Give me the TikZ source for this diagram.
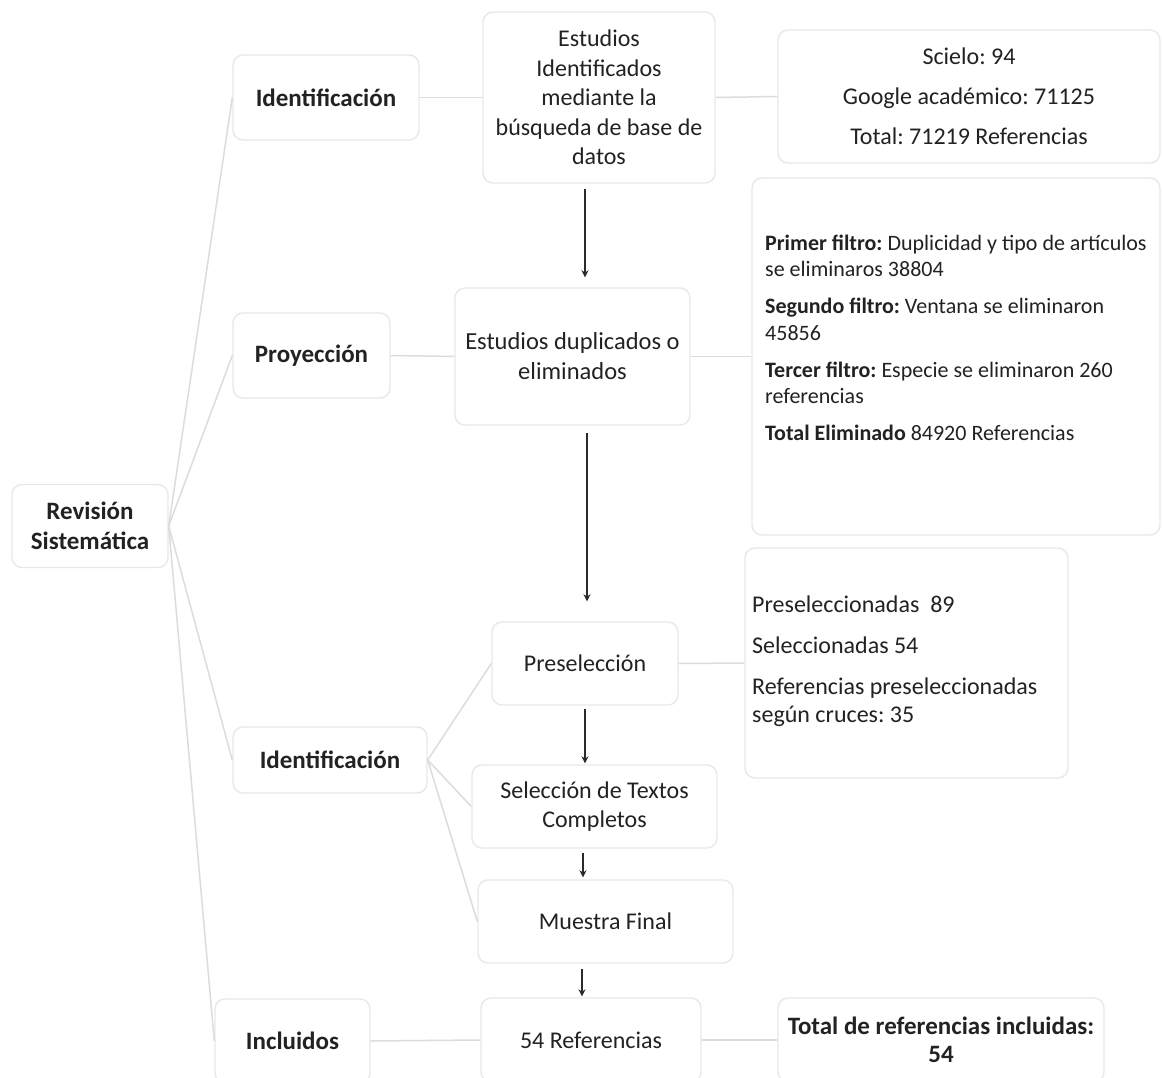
\documentclass[tikz,border=0pt]{standalone}
\usepackage{fontspec}
\setmainfont{Carlito}
\usetikzlibrary{arrows.meta}
\definecolor{boxline}{HTML}{E8E8E8}
\definecolor{conncol}{HTML}{DCDCDC}
\definecolor{txt}{HTML}{222222}
\definecolor{arrc}{HTML}{2A2A2A}
\frenchspacing
\begin{document}
\begin{tikzpicture}[x=1pt,y=-1pt,
  box/.style={draw=boxline, line width=1.4pt, rounded corners=10pt, fill=white, inner sep=0pt, align=center, text=txt},
  lbl/.style={box, font=\fontsize{25}{30}\selectfont\bfseries},
  reg/.style={box, font=\fontsize{24}{29.5}\selectfont},
  cline/.style={draw=conncol, line width=1.5pt},
  arr/.style={draw=arrc, line width=2.2pt, -{Stealth[length=7pt,width=7pt]}},
  txtnode/.style={inner sep=0pt, text=txt, align=left}
]
\useasboundingbox (0,0) rectangle (1162,1078);
\fill[white] (0,0) rectangle (1162,1078);
\clip (0,0) rectangle (1162,1078);

% left column labels
\node[lbl, minimum width=156pt, minimum height=83pt] (rev) at (90,526) {Revisión\\Sistemática};
\node[lbl, minimum width=186pt, minimum height=85pt] (id1) at (326,97.5) {Identificación};
\node[lbl, minimum width=157pt, minimum height=85pt] (pro) at (311.5,355.5) {Proyección};
\node[lbl, minimum width=194pt, minimum height=66pt] (id2) at (330,760) {Identificación};
\node[lbl, minimum width=155pt, minimum height=84pt] (inc) at (292.5,1041) {Incluidos};

% middle column
\node[reg, minimum width=232pt, minimum height=171pt] (est1) at (599,97.5) {Estudios\\Identificados\\mediante la\\búsqueda de base de\\datos};
\node[reg, minimum width=235pt, minimum height=137pt, font=\fontsize{24.5}{30}\selectfont] (est2) at (572.5,356.5) {Estudios duplicados o\\eliminados};
\node[reg, minimum width=186pt, minimum height=83pt] (pre) at (585,663.5) {Preselección};
\node[reg, minimum width=245pt, minimum height=83pt] (sel) at (594.5,806.5) {Selección de Textos\\Completos};
\node[reg, minimum width=255pt, minimum height=83pt] (mue) at (605.5,921.5) {Muestra Final};
\node[reg, minimum width=220pt, minimum height=84pt] (r54) at (591,1040) {54 Referencias};

% right column
\node[reg, minimum width=382pt, minimum height=133pt] (sci) at (969,96.5) {Scielo: 94\\[10.5pt]Google académico: 71125\\[10.5pt]Total: 71219 Referencias};
\node[box, minimum width=408pt, minimum height=357pt] (filt) at (956,356.5) {};
\node[txtnode, font=\fontsize{22}{26.5}\selectfont, anchor=west] (filtT) at (765,338)
  {\textbf{Primer filtro:} Duplicidad y tipo de artículos\\se eliminaros 38804\\[10.5pt]\textbf{Segundo filtro:} Ventana se eliminaron\\45856\\[10.5pt]\textbf{Tercer filtro:} Especie se eliminaron 260\\referencias\\[10.5pt]\textbf{Total Eliminado} 84920 Referencias};
\node[box, minimum width=323pt, minimum height=230pt] (psb) at (906.5,663) {};
\node[txtnode, font=\fontsize{24}{28}\selectfont, anchor=west] (psT) at (752,661)
  {Preseleccionadas\ \ 89\\[13pt]Seleccionadas 54\\[13pt]Referencias preseleccionadas\\según cruces: 35};
\node[lbl, minimum width=326pt, minimum height=84pt, font=\fontsize{25}{28}\selectfont\bfseries] (tot) at (941,1040) {Total de referencias incluidas:\\54};

% connectors
\draw[cline] (rev.east) -- (id1.west);
\draw[cline] (rev.east) -- (pro.west);
\draw[cline] (rev.east) -- (id2.west);
\draw[cline] (rev.east) -- (inc.west);
\draw[cline] (id2.east) -- (pre.west);
\draw[cline] (id2.east) -- (sel.west);
\draw[cline] (id2.east) -- (mue.west);
\draw[cline] (id1.east) -- (est1.west);
\draw[cline] (est1.east) -- (sci.west);
\draw[cline] (pro.east) -- (est2.west);
\draw[cline] (est2.east) -- (filt.west);
\draw[cline] (pre.east) -- (psb.west);
\draw[cline] (inc.east) -- (r54.west);
\draw[cline] (r54.east) -- (tot.west);

% arrows
\coordinate (a1) at (585,0);
\coordinate (a2) at (587,0);
\coordinate (a3) at (585,0);
\coordinate (a4) at (583,0);
\coordinate (a5) at (582,0);
\draw[arr, shorten <=5pt, shorten >=10pt] (est1.south -| a1) -- (est2.north -| a1);
\draw[arr, shorten <=7pt, shorten >=20pt] (est2.south -| a2) -- (pre.north -| a2);
\draw[arr, shorten <=3pt, shorten >=1pt] (pre.south -| a3) -- (sel.north -| a3);
\draw[arr, shorten <=4pt, shorten >=2pt] (sel.south -| a4) -- (mue.north -| a4);
\draw[arr, shorten <=5pt, shorten >=1pt] (mue.south -| a5) -- (r54.north -| a5);
\end{tikzpicture}
\end{document}
